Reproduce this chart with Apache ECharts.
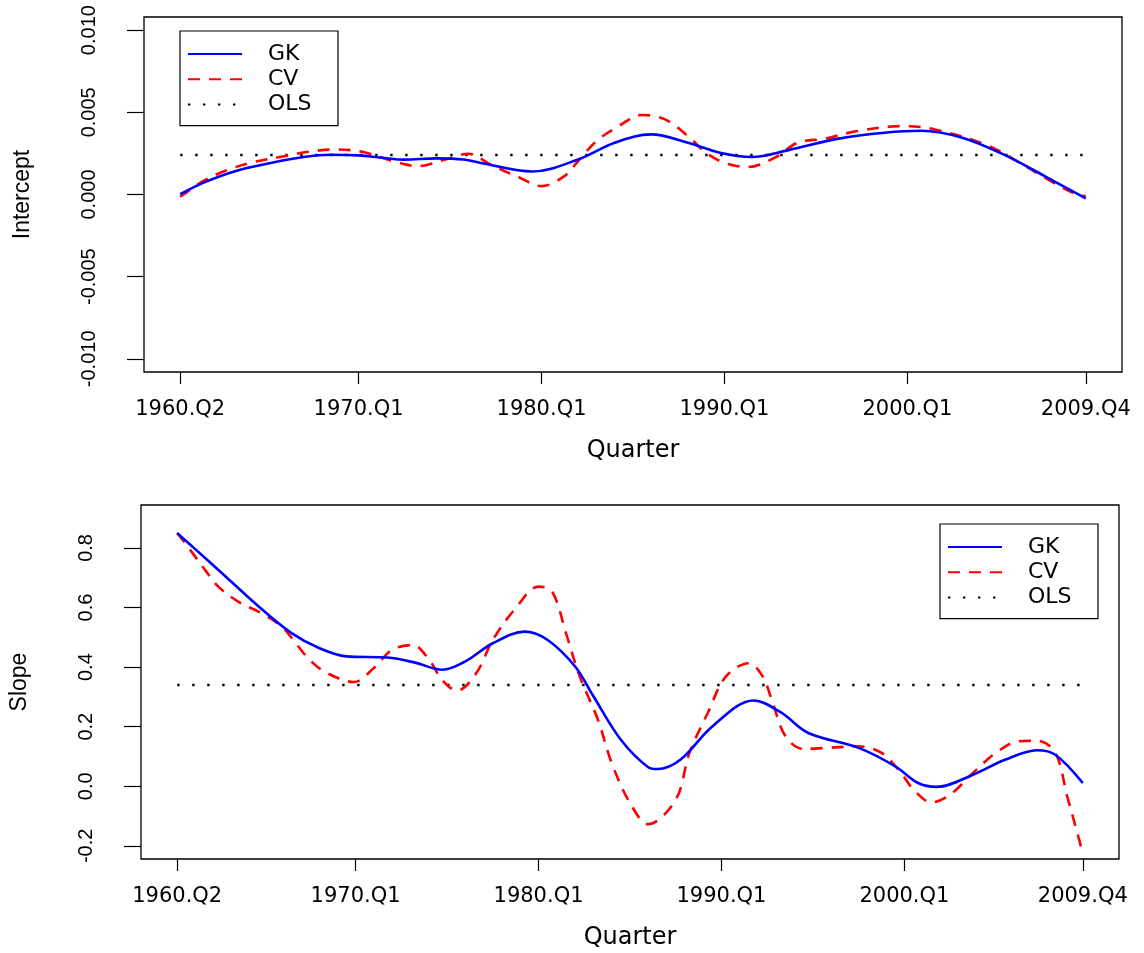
<!DOCTYPE html>
<html>
<head>
<meta charset="utf-8">
<script src="https://cdn.jsdelivr.net/npm/echarts@6/dist/echarts.min.js"></script>
<style>html,body{margin:0;padding:0;background:#fff}#c{width:1144px;height:953px}</style>
</head>
<body>
<div id="c"></div>
<script>
// ---------- data ----------
// x positions are quarter indices counted from 1960.Q2 (index 0)
const tickQuarters = ['1960.Q2', '1970.Q1', '1980.Q1', '1990.Q1', '2000.Q1', '2009.Q4'];
const interceptTicks = [-0.010, -0.005, 0.000, 0.005, 0.010];
const slopeTicks = [-0.2, 0.0, 0.2, 0.4, 0.6, 0.8];

const olsIntercept = 0.0024;
const olsSlope = 0.34;

const gkInterceptQ = [0, 5, 12, 20, 27, 33, 39, 44, 49, 56, 62, 66, 77, 87, 95, 103, 111, 118, 125, 133, 144, 154, 162, 171, 180, 189, 198];
const gkInterceptV = [0.00002, 0.00071, 0.00142, 0.00193, 0.00228, 0.00242, 0.00238, 0.00224, 0.00212, 0.00220, 0.00213, 0.00190, 0.00140, 0.00213, 0.00315, 0.00366, 0.00315, 0.00254, 0.00228, 0.00270, 0.00340, 0.00376, 0.00388, 0.00346, 0.00244, 0.00112, -0.00024];

const cvInterceptQ = [0, 5, 10, 16, 23, 28, 34, 40, 47, 52, 58, 63, 68, 74, 79, 84, 87, 91, 95, 101, 106, 111, 115, 119, 124, 130, 135, 141, 148, 158, 165, 176, 181, 191, 196, 198];
const cvInterceptV = [-0.00014, 0.00081, 0.00146, 0.00197, 0.00234, 0.00260, 0.00274, 0.00258, 0.00199, 0.00173, 0.00213, 0.00248, 0.00180, 0.00105, 0.00051, 0.00112, 0.00203, 0.00325, 0.00400, 0.00484, 0.00457, 0.00355, 0.00254, 0.00193, 0.00167, 0.00224, 0.00315, 0.00340, 0.00386, 0.00416, 0.00396, 0.00305, 0.00234, 0.00071, 0.00000, -0.00010];

const gkSlopeQ = [0, 4, 11, 18, 25, 31, 37, 46, 52, 58, 63, 69, 76, 81, 87, 91, 97, 103, 105, 110, 117, 126, 132, 138, 149, 157, 162, 166, 174, 181, 188, 192, 198];
const gkSlopeV = [0.849, 0.795, 0.698, 0.601, 0.514, 0.464, 0.436, 0.432, 0.415, 0.391, 0.419, 0.480, 0.519, 0.491, 0.402, 0.302, 0.156, 0.064, 0.058, 0.089, 0.201, 0.288, 0.248, 0.179, 0.129, 0.067, 0.011, -0.002, 0.039, 0.089, 0.121, 0.106, 0.011];

const cvSlopeQ = [0, 3, 6, 9, 13.5, 18.4, 23, 26, 29.3, 33, 38.6, 43, 47, 51.5, 55.2, 57.9, 61.2, 65.4, 69, 74, 79, 82, 85, 88, 92, 95, 99, 103, 109, 112, 116, 120, 125, 128, 130, 133, 137, 142, 149, 154, 158, 161, 165, 169, 174, 179, 184, 188, 192, 194.6, 196.8, 198];
const cvSlopeV = [0.851, 0.790, 0.728, 0.670, 0.618, 0.581, 0.534, 0.478, 0.419, 0.378, 0.350, 0.397, 0.458, 0.474, 0.422, 0.357, 0.321, 0.380, 0.491, 0.598, 0.670, 0.653, 0.514, 0.369, 0.223, 0.078, -0.056, -0.127, -0.045, 0.112, 0.246, 0.369, 0.413, 0.369, 0.290, 0.168, 0.125, 0.129, 0.134, 0.112, 0.050, -0.011, -0.054, -0.028, 0.045, 0.112, 0.151, 0.153, 0.112, -0.034, -0.156, -0.225];

// ---------- helpers ----------
function qIndex(label) {
  const y = +label.slice(0, 4), q = +label.slice(6);
  return (y - 1960) * 4 + (q - 2);
}
const tickIdx = tickQuarters.map(qIndex);
const firstQ = tickIdx[0], lastQ = tickIdx[tickIdx.length - 1];
const zip = (xs, ys) => xs.map((x, i) => [x, ys[i]]);
const labelFor = v => {
  const k = tickIdx.indexOf(Math.round(v));
  return k >= 0 ? tickQuarters[k] : '';
};

const BLUE = '#0000ff', RED = '#ff0000', BLACK = '#000000';
const hFont = 'DejaVu Sans';
const vFont = 'Liberation Sans, Arial, sans-serif';

const pad = (lastQ - firstQ) * 0.04;

function xAxis(gridIndex) {
  return {
    type: 'value', gridIndex, min: firstQ - pad, max: lastQ + pad,
    splitLine: { show: false },
    axisLine: { show: false, onZero: false },
    axisTick: { show: true, length: 12, customValues: tickIdx, lineStyle: { color: BLACK, width: 1.2 } },
    axisLabel: { customValues: tickIdx, formatter: labelFor, margin: 27, color: BLACK, fontFamily: hFont, fontSize: 21 },
    name: 'Quarter', nameLocation: 'middle', nameGap: 67,
    nameTextStyle: { color: BLACK, fontFamily: hFont, fontSize: 24 }
  };
}
function yAxis(gridIndex, ticks, lo, hi, digits, name) {
  const ext = (hi - lo) * 0.04;
  return {
    type: 'value', gridIndex, min: lo - ext, max: hi + ext,
    splitLine: { show: false },
    axisLine: { show: false, onZero: false },
    axisTick: { show: true, length: 17, customValues: ticks, lineStyle: { color: BLACK, width: 1.2 } },
    axisLabel: { customValues: ticks, formatter: v => v.toFixed(digits), rotate: 90, margin: 45, color: BLACK, fontFamily: vFont, fontSize: 20 },
    name, nameLocation: 'middle', nameGap: 110, nameRotate: 90,
    nameTextStyle: { color: BLACK, fontFamily: vFont, fontSize: 23 }
  };
}
function gk(idx, data) {
  return { name: 'GK', type: 'line', xAxisIndex: idx, yAxisIndex: idx, data, symbol: 'none', smooth: 0.35,
    lineStyle: { color: BLUE, width: 2.6 }, itemStyle: { color: BLUE }, z: 4 };
}
function cv(idx, data) {
  return { name: 'CV', type: 'line', xAxisIndex: idx, yAxisIndex: idx, data, symbol: 'none', smooth: 0.35,
    lineStyle: { color: RED, width: 2.6, type: [12, 9] }, itemStyle: { color: RED }, z: 3 };
}
function ols(idx, v) {
  return { name: 'OLS', type: 'line', xAxisIndex: idx, yAxisIndex: idx, data: [[firstQ, v], [lastQ, v]], symbol: 'none',
    lineStyle: { color: BLACK, width: 2.6, type: [2.4, 12.6] }, itemStyle: { color: BLACK }, z: 2 };
}
function legend(left, top) {
  return {
    orient: 'vertical', left, top, data: ['GK', 'CV', 'OLS'],
    itemWidth: 54, itemHeight: 14, itemGap: 3.3,
    padding: [12, 0, 10, 7],
    borderColor: BLACK, borderWidth: 1.2, backgroundColor: '#fff',
    itemStyle: { opacity: 0 },
    selectedMode: false,
    textStyle: { color: BLACK, fontFamily: hFont, fontSize: 22, lineHeight: 20, width: 70, padding: [0, 0, 0, 21] }
  };
}

const chart = echarts.init(document.getElementById('c'), null, { renderer: 'canvas' });
chart.setOption({
  animation: false,
  backgroundColor: '#fff',
  grid: [
    { left: 144, top: 17, width: 978, height: 355, show: true, borderColor: BLACK, borderWidth: 1.3, containLabel: false },
    { left: 141, top: 505, width: 978, height: 354, show: true, borderColor: BLACK, borderWidth: 1.3, containLabel: false }
  ],
  legend: [legend(180, 31), legend(940, 524)],
  xAxis: [xAxis(0), xAxis(1)],
  yAxis: [
    yAxis(0, interceptTicks, -0.010, 0.010, 3, 'Intercept'),
    yAxis(1, slopeTicks, -0.2, 0.9, 1, 'Slope')
  ],
  series: [
    ols(0, olsIntercept),
    cv(0, zip(cvInterceptQ, cvInterceptV)),
    gk(0, zip(gkInterceptQ, gkInterceptV)),
    ols(1, olsSlope),
    cv(1, zip(cvSlopeQ, cvSlopeV)),
    gk(1, zip(gkSlopeQ, gkSlopeV))
  ]
});
</script>
</body>
</html>
